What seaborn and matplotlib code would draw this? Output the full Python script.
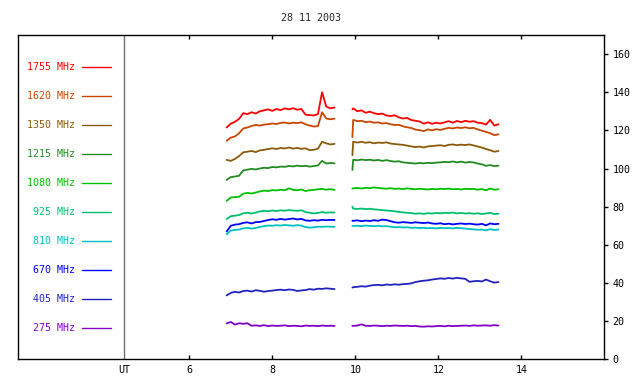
import numpy as np
import pandas as pd
import seaborn as sns
import matplotlib
matplotlib.use("Agg")
import matplotlib.pyplot as plt
import matplotlib.transforms as mtransforms

# time axis (UT hours) for the two observing segments
t1 = [6.9, 7.0, 7.1, 7.2, 7.3, 7.4, 7.5, 7.6, 7.7, 7.8, 7.9, 8.0, 8.1, 8.2,
      8.3, 8.4, 8.5, 8.6, 8.7, 8.8, 8.9, 9.0, 9.1, 9.2, 9.3, 9.4, 9.5]
t2 = [9.93, 9.95, 10.05, 10.15, 10.25, 10.35, 10.45, 10.55, 10.65, 10.75,
      10.85, 10.95, 11.05, 11.15, 11.25, 11.35, 11.45, 11.55, 11.65, 11.75,
      11.85, 11.95, 12.05, 12.15, 12.25, 12.35, 12.45, 12.55, 12.65, 12.75,
      12.85, 12.95, 13.05, 13.15, 13.25, 13.35, 13.45]

freqs = ["1755", "1620", "1350", "1215", "1080", "925", "810", "670", "405", "275"]
colors = ["#ff0000", "#c84600", "#8b5a0a", "#228b22", "#00c000",
          "#00c070", "#00c0c0", "#0000ff", "#2222c0", "#8000c8"]

s1755_a = [121.5, 123.5, 124.5, 126, 129, 128.5, 129.5, 128.8, 130, 130.5, 131, 130.2, 131.2, 130.6,
           131.5, 131, 131.6, 130.8, 131.2, 128.2, 128, 127.8, 128.5, 140, 132.5, 131.5, 132]
s1755_b = [131, 131.5, 130, 130.5, 129.2, 129.8, 129, 128.5, 128.8, 127.8, 127.5, 127.9, 126.8, 126.2,
           126.5, 125.4, 125, 124.6, 123.5, 124.2, 123.4, 124, 123.6, 124.2, 124.8, 124, 124.9, 124.3,
           125, 124.5, 124.8, 124, 123.8, 123, 125.5, 122.5, 123.2]
s1620_a = [114.5, 116.2, 116.8, 118.5, 121, 121.5, 122.3, 122.8, 122.5, 123, 123.2, 123.6, 123.3, 123.9,
           124.1, 123.6, 124, 123.8, 124.2, 123.2, 122.5, 122, 122.2, 129.5, 126.2, 125.8, 126.1]
s1620_b = [116.5, 125.5, 124.8, 125, 124.3, 124.6, 124, 124.2, 123.6, 123.8, 123.2, 122.8, 122.9, 122.1,
           121.6, 121.2, 120.4, 120.1, 119.6, 120.5, 120, 120.6, 120.2, 120.8, 121.3, 121, 121.5, 121.2,
           121.6, 121.1, 121.3, 120.5, 119.8, 119.2, 118.5, 117.5, 117.9]
s1350_a = [104.5, 104, 105, 106.5, 108.5, 108.8, 109.2, 108.6, 109.5, 109.8, 110.2, 110.6, 110.2, 110.8,
           110.5, 111, 110.4, 110.8, 110.3, 110.6, 109.6, 109.8, 110.4, 114, 113.2, 112.6, 112.9]
s1350_b = [107, 114, 113.6, 114, 113.5, 113.8, 113.2, 113.6, 113.4, 113.7, 113.1, 112.8, 112.6, 112.4,
           112, 111.6, 111.2, 111.5, 111, 111.6, 111.8, 112, 112.2, 111.8, 112.4, 112.6, 112.2, 112.5,
           112.3, 112.6, 112.1, 111.5, 111, 110.2, 109.6, 108.8, 109.2]
s1215_a = [94, 95.5, 95.8, 96.2, 99, 99.4, 99.8, 99.5, 100, 100.4, 100.2, 100.8, 100.6, 101,
           100.9, 101.3, 101.1, 101.5, 101.2, 101.4, 101, 101.3, 101.6, 104, 102.6, 102.9, 102.7]
s1215_b = [99.2, 104.6, 104.3, 104.7, 104.4, 104.6, 104.2, 104.5, 104, 104.4, 103.9, 103.6, 103.8, 103.2,
           103, 102.8, 102.6, 102.9, 102.7, 103, 102.8, 103.1, 103.2, 103.5, 103.3, 103.7, 103.2, 103.6,
           103.1, 103.4, 103.2, 102.6, 102.2, 101.4, 101.8, 101.2, 101.5]
s1080_a = [83, 84.8, 85, 85.2, 86.8, 87.2, 86.9, 87.4, 88, 88.4, 88.2, 88.7, 88.5, 88.9,
           88.6, 89.6, 88.8, 88.6, 89, 88.2, 88.6, 88.8, 89.1, 89.3, 88.9, 89.2, 88.8]
s1080_b = [89.5, 89.6, 89.8, 89.5, 89.9, 89.7, 90.1, 89.8, 89.6, 89.4, 89.7, 89.3, 89.5, 89.2,
           89.6, 89.3, 89.1, 89.4, 89.2, 89, 89.3, 89.1, 89.4, 89.2, 89.5, 89.1, 89.3, 89,
           89.4, 89.2, 89.3, 88.9, 89.2, 88.6, 89.5, 88.9, 89.1]
s925_a = [73.5, 75, 75.3, 75.6, 76.5, 76.8, 76.4, 76.9, 77.5, 77.8, 77.6, 78, 77.7, 78.1,
          77.9, 78.2, 78, 77.8, 78.1, 77.2, 76.8, 76.5, 76.7, 77.2, 76.8, 77, 76.9]
s925_b = [80, 79, 78.8, 79, 78.7, 78.9, 78.6, 78.4, 78.2, 78, 77.8, 77.6, 77.2, 77,
          76.8, 76.6, 76.3, 76.5, 76.2, 76.6, 76.4, 76.7, 76.5, 76.8, 76.6, 76.9, 76.5, 76.7,
          76.4, 76.6, 76.3, 76.5, 76.2, 76.4, 76.8, 76.1, 76.3]
s810_a = [65.5, 67.5, 67.8, 68, 68.6, 68.9, 68.5, 68.8, 69.4, 69.8, 70.1, 70, 70.3, 70.1,
          70.4, 70.2, 70, 70.3, 70.1, 69.3, 69, 69.2, 69.5, 69.4, 69.6, 69.5, 69.5]
s810_b = [70, 69.9, 70, 69.8, 70.1, 69.9, 69.8, 70, 69.7, 69.8, 69.5, 69.2, 69.3, 69.1,
          69.2, 68.9, 69, 68.8, 68.9, 68.7, 68.8, 68.6, 68.9, 68.7, 68.8, 68.6, 68.9, 68.7,
          68.5, 68.3, 68.1, 67.9, 68, 67.6, 68.2, 67.8, 68]
s670_a = [67, 70, 70.6, 70.8, 71.5, 71.8, 71.2, 71.9, 72, 72.5, 73, 73.4, 73.1, 73.6,
          73.2, 73.5, 73.8, 73.3, 73.6, 72.8, 72.6, 72.9, 72.7, 73.1, 72.9, 73.1, 73]
s670_b = [72.6, 72.6, 72.8, 72.4, 72.7, 72.5, 72.9, 72.6, 73.2, 73, 72.4, 71.8, 71.6, 71.9,
          71.7, 71.5, 71.8, 71.6, 71.4, 71.7, 71.2, 71, 71.3, 70.8, 71.1, 70.7, 71, 71.2,
          70.9, 71.1, 70.8, 70.6, 71, 70.2, 71.2, 70.8, 71]
s405_a = [33.5, 34.8, 35.4, 35, 35.8, 36, 35.5, 36.2, 35.9, 35.4, 35.8, 36, 36.3, 36.5,
          36.2, 36.6, 36.4, 35.8, 36.1, 36.3, 36.8, 36.5, 37, 36.9, 37.2, 37, 36.8]
s405_b = [37.6, 37.8, 38.0, 38.3, 38.1, 38.6, 38.9, 39.0, 38.8, 39.2, 39.0, 39.3, 39.1, 39.4,
          39.5, 39.8, 40.5, 40.9, 41.2, 41.4, 41.8, 42.1, 42.4, 42.2, 42.6, 42.3, 42.7, 42.4,
          42.2, 40.6, 40.9, 41.1, 40.8, 41.8, 40.9, 40.2, 40.5]
s275_a = [18.8, 19.6, 18.2, 18.9, 18.6, 18.9, 17.6, 17.8, 17.5, 17.9, 17.4, 17.7, 17.5, 17.6,
          17.8, 17.4, 17.6, 17.5, 17.3, 17.7, 17.5, 17.6, 17.4, 17.7, 17.5, 17.6, 17.5]
s275_b = [17.6, 17.5, 17.7, 18.3, 17.6, 17.5, 17.7, 17.6, 17.4, 17.6, 17.5, 17.7, 17.6, 17.5,
          17.6, 17.4, 17.5, 17.2, 17.1, 17.3, 17.2, 17.4, 17.5, 17.3, 17.6, 17.4, 17.5, 17.6,
          17.7, 17.5, 17.8, 17.6, 17.7, 17.8, 17.6, 17.9, 17.7]

series = {
    "1755": (s1755_a, s1755_b), "1620": (s1620_a, s1620_b),
    "1350": (s1350_a, s1350_b), "1215": (s1215_a, s1215_b),
    "1080": (s1080_a, s1080_b), "925": (s925_a, s925_b),
    "810": (s810_a, s810_b), "670": (s670_a, s670_b),
    "405": (s405_a, s405_b), "275": (s275_a, s275_b),
}

frames = []
for f in freqs:
    a, b = series[f]
    d1 = pd.DataFrame({"t": t1, "v": a})
    d1["seg"] = 1
    d2 = pd.DataFrame({"t": t2, "v": b})
    d2["seg"] = 2
    d = pd.concat([d1, d2])
    d["freq"] = f
    frames.append(d)
df = pd.concat(frames, ignore_index=True)

sns.set_style("white")
plt.rcParams["font.family"] = ["DejaVu Sans Mono"]
fs = 7.2

fig = plt.figure(figsize=(6.4, 3.84), dpi=100)
ax = fig.add_axes([0.0286, 0.0643, 0.9156, 0.8447])

sns.lineplot(data=df, x="t", y="v", hue="freq", units="seg", estimator=None,
             palette=dict(zip(freqs, colors)), hue_order=freqs, legend=False,
             linewidth=1.3, sort=False, ax=ax)

ax.set_xlim(1.88, 16.0)
ax.set_ylim(0, 170)
ax.set_xlabel("")
ax.set_ylabel("")

# UT separator
ut = 4.43
ax.axvline(ut, color="#707070", lw=1.0)

# legend panel on the left
trans = mtransforms.blended_transform_factory(ax.transData, ax.transAxes)
for i, (f, c) in enumerate(zip(freqs, colors)):
    yy = 0.900 - i * 0.0894
    ax.plot([3.42, 4.11], [yy, yy], color=c, lw=1.0, transform=trans)
    ax.text(3.25, yy, f + " MHz", color=c, ha="right", va="center",
            fontsize=fs, transform=trans)

for sp in ax.spines.values():
    sp.set_color("black")
    sp.set_linewidth(1.0)

ax.set_xticks([ut, 6, 8, 10, 12, 14])
ax.set_xticklabels(["UT", "6", "8", "10", "12", "14"], fontsize=fs)
ax.tick_params(axis="x", which="both", direction="in", length=3, width=1,
               top=True, bottom=True, pad=4, colors="black")
ax.xaxis.get_major_ticks()[0].tick1line.set_visible(False)
ax.xaxis.get_major_ticks()[0].tick2line.set_visible(False)

ax.yaxis.tick_right()
ax.set_yticks([0, 20, 40, 60, 80, 100, 120, 140, 160])
ax.tick_params(axis="y", direction="out", length=3, width=1, right=True,
               left=False, labelsize=fs, pad=3, colors="black")

ax.set_title("28 11 2003", fontsize=fs, pad=10)

fig.savefig("out.png", dpi=100)
